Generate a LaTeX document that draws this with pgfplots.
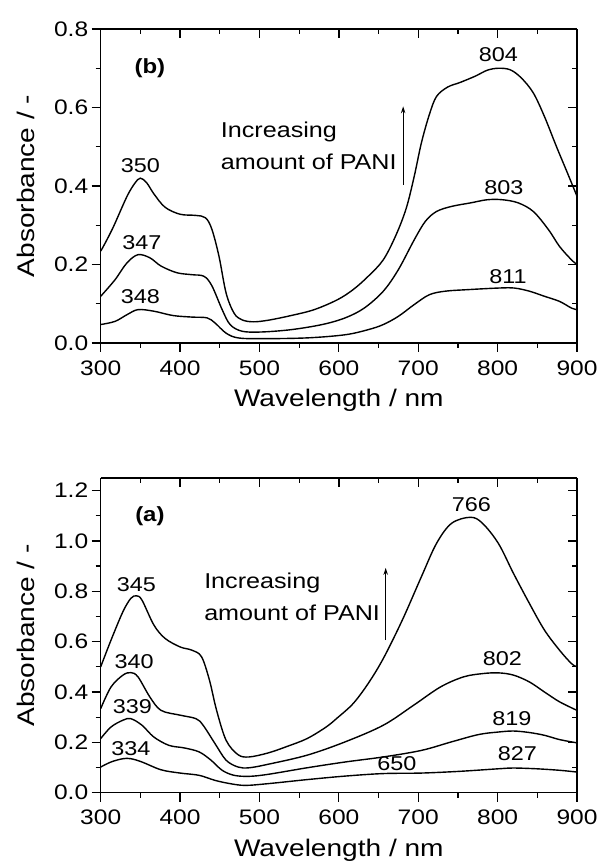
\documentclass[border=0pt]{standalone}
\usepackage{fontspec}
\setmainfont[FakeStretch=1.17]{Liberation Sans}
\usepackage{pgfplots}
\pgfplotsset{compat=1.18}
\usetikzlibrary{arrows.meta}

\pgfplotsset{
  panel/.style={
    scale only axis, width=476.3pt,
    xmin=300, xmax=900, ymin=0,
    xtick={300,400,...,900},
    minor x tick num=1, minor y tick num=1,
    major tick length=9pt, minor tick length=5pt,
    axis line style={line width=1.5pt},
    tick style={line width=1.3pt, black},
    /pgf/number format/assume math mode=true,
    tick label style={font=\fontsize{21}{21}\selectfont},
    xticklabel style={yshift=-5pt},
    yticklabel style={/pgf/number format/.cd, fixed, fixed zerofill, precision=1},
    every axis x label/.style={at={(axis description cs:0.5,-0.203)}, anchor=base,
      font=\fontsize{24}{24}\selectfont},
    every axis y label/.style={at={(axis description cs:-0.138,0.5)}, rotate=90, anchor=base,
      font=\fontsize{24}{24}\selectfont},
  },
  mainax/.style={panel, axis x line*=bottom, axis y line*=left, tick align=outside,
    xlabel={Wavelength / nm}, ylabel={Absorbance / -}},
  overax/.style={panel, axis x line*=top, axis y line*=right, tick align=inside,
    xticklabels={}, yticklabels={}},
}
\tikzset{
  curve/.style={black, line width=1.4pt, smooth, tension=0.55},
  num/.style={font=\fontsize{20}{20}\selectfont},
  txt/.style={font=\fontsize{21.5}{32}\selectfont, align=left, anchor=west},
}

\begin{document}
\begin{tikzpicture}
\useasboundingbox (0,0) rectangle (601pt,865pt);

% ---------- panel (b) ----------
\begin{axis}[mainax, at={(100.7pt,522pt)}, anchor=south west, height=314pt,
  ymax=0.8, ytick={0,0.2,...,0.8}]
\addplot[curve] coordinates {
(300,0.234)(306,0.256)(316,0.296)(333,0.373)(343,0.407)(350,0.420)(358,0.408)(367,0.380)
(381,0.346)(400,0.328)(420,0.325)(432,0.319)(440,0.290)(449,0.221)(458,0.127)
(468,0.076)(478,0.059)(492,0.054)(511,0.058)(540,0.070)(569,0.085)(598,0.110)
(618,0.136)(637,0.170)(656,0.212)(672,0.275)(685,0.344)(695,0.425)(704,0.510)
(714,0.582)(723,0.628)(737,0.652)(753,0.664)(772,0.680)(787,0.695)(801,0.700)
(816,0.696)(830,0.675)(845,0.637)(859,0.577)(874,0.501)(888,0.433)(900,0.374)};
\addplot[curve] coordinates {
(300,0.119)(318,0.161)(333,0.204)(347,0.225)(362,0.217)(376,0.196)(396,0.179)
(415,0.174)(430,0.170)(440,0.146)(453,0.085)(463,0.047)(478,0.030)(502,0.028)
(540,0.034)(579,0.047)(608,0.064)(632,0.089)(656,0.132)(675,0.187)(695,0.263)
(709,0.310)(723,0.335)(742,0.348)(766,0.357)(787,0.365)(806,0.365)(826,0.357)
(845,0.335)(864,0.289)(878,0.246)(893,0.212)(900,0.200)};
\addplot[curve] coordinates {
(300,0.047)(318,0.055)(333,0.072)(347,0.085)(367,0.081)(391,0.070)(415,0.066)
(434,0.064)(444,0.051)(458,0.025)(473,0.013)(502,0.011)(560,0.013)(608,0.021)
(637,0.034)(656,0.047)(675,0.068)(695,0.098)(714,0.123)(734,0.132)(763,0.136)
(801,0.140)(821,0.140)(840,0.132)(859,0.119)(878,0.106)(893,0.089)(900,0.085)};
\node[num] at (axis cs:801,0.734) {804};
\node[num] at (axis cs:808,0.395) {803};
\node[num] at (axis cs:813,0.170) {811};
\node[num] at (axis cs:350,0.452) {350};
\node[num] at (axis cs:352,0.255) {347};
\node[num] at (axis cs:350,0.119) {348};
\node[font=\fontsize{20.5}{20.5}\selectfont\bfseries] at (axis cs:362,0.700) {(b)};
\node[txt] at (axis cs:447,0.502) {Increasing\\amount of PANI};
\draw[line width=1.1pt, -{Stealth[length=7pt,width=4.5pt]}] (axis cs:681,0.403) -- (axis cs:681,0.603);
\end{axis}
\begin{axis}[overax, at={(100.7pt,522pt)}, anchor=south west, height=314pt,
  ymax=0.8, ytick={0,0.2,...,0.8}]
\end{axis}

% ---------- panel (a) ----------
\begin{axis}[mainax, at={(100.7pt,72.3pt)}, anchor=south west, height=314.7pt,
  ymax=1.25, ytick={0,0.2,...,1.2}]
\addplot[curve] coordinates {
(300,0.500)(313,0.606)(328,0.719)(338,0.772)(345,0.782)(352,0.765)(367,0.666)
(381,0.613)(400,0.579)(415,0.566)(427,0.540)(437,0.447)(446,0.327)(458,0.208)
(473,0.151)(487,0.142)(511,0.158)(535,0.184)(560,0.215)(584,0.261)(598,0.297)
(618,0.354)(637,0.434)(656,0.533)(680,0.686)(704,0.858)(723,0.990)(742,1.070)
(766,1.094)(781,1.070)(801,0.990)(820,0.871)(840,0.752)(859,0.646)(878,0.566)
(893,0.513)(900,0.500)};
\addplot[curve] coordinates {
(300,0.334)(313,0.420)(328,0.467)(338,0.477)(347,0.460)(362,0.380)(376,0.327)
(400,0.308)(420,0.294)(429,0.268)(444,0.195)(458,0.129)(473,0.102)(487,0.099)
(511,0.113)(560,0.149)(608,0.202)(656,0.268)(694,0.347)(728,0.420)(757,0.460)
(781,0.473)(801,0.476)(820,0.467)(840,0.440)(859,0.400)(878,0.361)(900,0.327)};
\addplot[curve] coordinates {
(300,0.215)(313,0.261)(328,0.288)(338,0.294)(352,0.268)(367,0.221)(386,0.188)
(405,0.178)(424,0.162)(439,0.129)(453,0.089)(468,0.069)(487,0.065)(511,0.073)
(560,0.099)(608,0.122)(656,0.142)(704,0.168)(742,0.202)(776,0.231)(801,0.241)
(820,0.245)(840,0.239)(859,0.228)(878,0.211)(900,0.198)};
\addplot[curve] coordinates {
(300,0.102)(313,0.122)(328,0.135)(338,0.135)(352,0.122)(376,0.091)(400,0.078)
(424,0.069)(444,0.049)(463,0.036)(482,0.029)(511,0.036)(560,0.052)(608,0.066)
(656,0.076)(704,0.078)(753,0.085)(801,0.095)(820,0.098)(849,0.095)(878,0.089)
(900,0.082)};
\node[num] at (axis cs:767,1.143) {766};
\node[num] at (axis cs:806,0.533) {802};
\node[num] at (axis cs:818,0.294) {819};
\node[num] at (axis cs:825,0.155) {827};
\node[num] at (axis cs:673,0.115) {650};
\node[num] at (axis cs:345,0.825) {345};
\node[num] at (axis cs:342,0.520) {340};
\node[num] at (axis cs:340,0.340) {339};
\node[num] at (axis cs:338,0.175) {334};
\node[font=\fontsize{20.5}{20.5}\selectfont\bfseries] at (axis cs:362,1.097) {(a)};
\node[txt] at (axis cs:426,0.778) {Increasing\\amount of PANI};
\draw[line width=1.1pt, -{Stealth[length=7pt,width=4.5pt]}] (axis cs:659,0.606) -- (axis cs:659,0.893);
\end{axis}
\begin{axis}[overax, at={(100.7pt,72.3pt)}, anchor=south west, height=314.7pt,
  ymax=1.25, ytick={0,0.2,...,1.2}]
\end{axis}
\end{tikzpicture}
\end{document}
